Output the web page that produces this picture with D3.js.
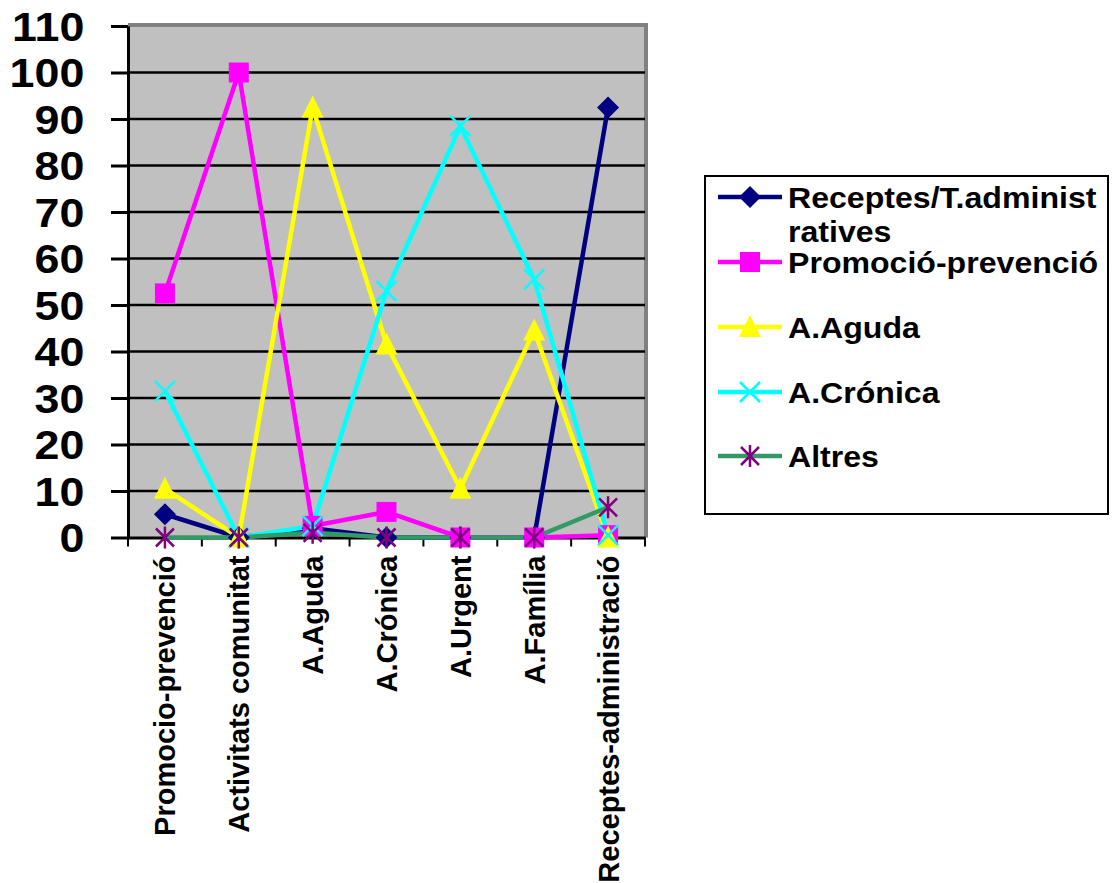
<!DOCTYPE html>
<html>
<head>
<meta charset="utf-8">
<script src="https://cdn.jsdelivr.net/npm/d3@7"></script>
<style>
  body { margin: 0; background: #fff; }
  text { font-family: "Liberation Sans", Arial, sans-serif; font-weight: bold; fill: #000; }
</style>
</head>
<body>
<script>
// categories on the x axis
var categories = ["Promocio-prevenció", "Activitats comunitat", "A.Aguda", "A.Crónica", "A.Urgent", "A.Família", "Receptes-administració"];
// series values (one per category)
var receptes  = [5, 0, 2, 0, 0, 0, 92.5];
var promocio  = [52.5, 100, 2.5, 5.5, 0, 0, 0.5];
var aguda     = [10.5, 0, 92.5, 41.5, 10.5, 44.5, 0];
var cronica   = [31.5, 0, 2.5, 53, 88.5, 55.5, 0.5];
var altres    = [0, 0, 1, 0, 0, 0, 6.5];
var seriesNames = ["Receptes/T.administratives", "Promoció-prevenció", "A.Aguda", "A.Crónica", "Altres"];
var legendLines = [["Receptes/T.administ", "ratives"], ["Promoció-prevenció"], ["A.Aguda"], ["A.Crónica"], ["Altres"]];
var yTicks = [0, 10, 20, 30, 40, 50, 60, 70, 80, 90, 100, 110];

var width = 1118, height = 883;
var plotL = 128, plotR = 645, plotT = 26, plotB = 537.5;

var svg = d3.select("body").append("svg")
  .attr("width", width)
  .attr("height", height);

var x = d3.scaleBand().domain(categories).range([plotL, plotR]);
var y = d3.scaleLinear().domain([0, 110]).range([plotB, plotT]);

// plot background + grey frame
svg.append("rect")
  .attr("x", plotL).attr("y", plotT)
  .attr("width", plotR - plotL).attr("height", plotB - plotT)
  .attr("fill", "#c0c0c0");
svg.append("path")
  .attr("d", "M" + plotL + "," + (plotT - 1) + "H" + (plotR + 1) + "V" + plotB)
  .attr("fill", "none").attr("stroke", "#808080").attr("stroke-width", 4);

// gridlines
svg.append("g").selectAll("line").data(yTicks.filter(function(t) { return t > 0 && t < 110; })).enter()
  .append("line")
  .attr("x1", plotL).attr("x2", plotR)
  .attr("y1", function(d) { return y(d); }).attr("y2", function(d) { return y(d); })
  .attr("stroke", "#000").attr("stroke-width", 2.5);

// y axis
var yAxis = d3.axisLeft(y).tickValues(yTicks).tickSize(17).tickPadding(22).tickSizeOuter(0);
var gy = svg.append("g").attr("transform", "translate(" + plotL + ",0)").call(yAxis);
gy.select(".domain").attr("stroke", "#000").attr("stroke-width", 3);
gy.selectAll(".tick line").attr("stroke", "#000").attr("stroke-width", 3);
gy.selectAll(".tick text").attr("font-size", 40).attr("fill", "#000")
  .attr("font-family", "Liberation Sans, Arial, sans-serif").attr("font-weight", "bold")
  .attr("transform", "scale(1.12,1)").attr("dy", "0.36em");

// x axis
var xAxis = d3.axisBottom(x).tickSize(0).tickPadding(12);
var gx = svg.append("g").attr("transform", "translate(0," + plotB + ")").call(xAxis);
gx.select(".domain").attr("stroke", "#000").attr("stroke-width", 3);
gx.selectAll(".tick text")
  .attr("font-size", 29).attr("fill", "#000")
  .attr("font-family", "Liberation Sans, Arial, sans-serif").attr("font-weight", "bold")
  .attr("text-anchor", "end")
  .attr("transform", "rotate(-90)")
  .attr("x", -18).attr("y", 0).attr("dy", "0.36em");
// tick marks between categories
var bounds = categories.map(function(c) { return x(c); }).concat([plotR]);
gx.append("g").selectAll("line").data(bounds).enter().append("line")
  .attr("x1", function(d) { return d; }).attr("x2", function(d) { return d; })
  .attr("y1", 0).attr("y2", 9)
  .attr("stroke", "#000").attr("stroke-width", 2);

function cx(i) { return x(categories[i]) + x.bandwidth() / 2; }

// markers
function marker(g, type, color) {
  if (type === "diamond") {
    g.append("path").attr("d", "M0,-11L11,0L0,11L-11,0Z").attr("fill", color);
  } else if (type === "square") {
    g.append("rect").attr("x", -10).attr("y", -10).attr("width", 20).attr("height", 20).attr("fill", color);
  } else if (type === "triangle") {
    g.append("path").attr("d", "M0,-12L11,10L-11,10Z").attr("fill", color);
  } else if (type === "x") {
    g.append("path").attr("d", "M-10,-10L10,10M-10,10L10,-10").attr("stroke", color).attr("stroke-width", 2.5);
  } else if (type === "star") {
    g.append("path").attr("d", "M-9,-9L9,9M-9,9L9,-9M0,-11V11").attr("stroke", color).attr("stroke-width", 2.5);
  }
}

var series = [
  { name: seriesNames[0], values: receptes, line: "#000080", mcolor: "#000080", marker: "diamond" },
  { name: seriesNames[1], values: promocio, line: "#ff00ff", mcolor: "#ff00ff", marker: "square" },
  { name: seriesNames[2], values: aguda,    line: "#ffff00", mcolor: "#ffff00", marker: "triangle" },
  { name: seriesNames[3], values: cronica,  line: "#00ffff", mcolor: "#00ffff", marker: "x" },
  { name: seriesNames[4], values: altres,   line: "#339966", mcolor: "#800080", marker: "star" }
];

var line = d3.line()
  .x(function(d, i) { return cx(i); })
  .y(function(d) { return y(d); });

series.forEach(function(s) {
  svg.append("path").datum(s.values)
    .attr("d", line)
    .attr("fill", "none").attr("stroke", s.line).attr("stroke-width", 4.5)
    .attr("stroke-linejoin", "miter");
});
series.forEach(function(s) {
  s.values.forEach(function(v, i) {
    var g = svg.append("g").attr("transform", "translate(" + cx(i) + "," + y(v) + ")");
    marker(g, s.marker, s.mcolor);
  });
});

// legend
var leg = svg.append("g");
leg.append("rect").attr("x", 705).attr("y", 176).attr("width", 403).attr("height", 338)
  .attr("fill", "#fff").attr("stroke", "#000").attr("stroke-width", 2);
var legY = [197, 262, 327, 392, 456];
series.forEach(function(s, i) {
  var g = leg.append("g").attr("transform", "translate(0," + legY[i] + ")");
  g.append("line").attr("x1", 718).attr("x2", 782).attr("y1", 0).attr("y2", 0)
    .attr("stroke", s.line).attr("stroke-width", 4.5);
  var m = g.append("g").attr("transform", "translate(750,0)");
  marker(m, s.marker, s.mcolor);
  legendLines[i].forEach(function(t, j) {
    g.append("text").attr("transform", "translate(788," + (j * 34) + ") scale(1.07,1)")
      .attr("dy", "0.36em")
      .attr("font-size", 30).text(t);
  });
});
</script>
</body>
</html>
